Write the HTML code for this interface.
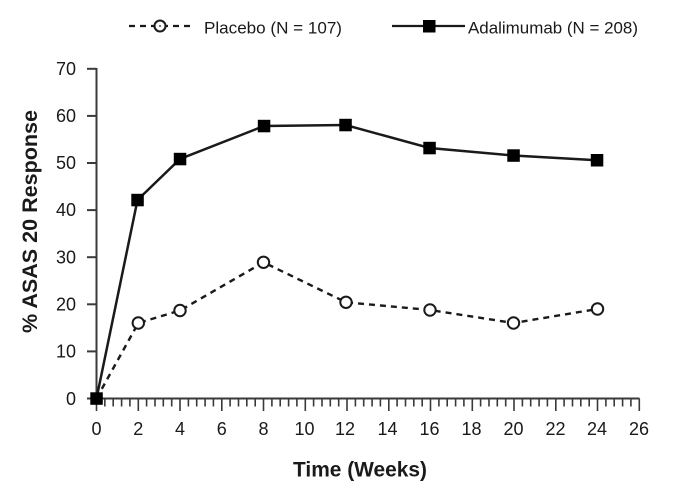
<!DOCTYPE html>
<html>
<head>
<meta charset="utf-8">
<style>
html,body{margin:0;padding:0;background:#fff;}
svg{display:block;}
text{font-family:"Liberation Sans",Arial,sans-serif;fill:#1a1a1a;}
</style>
</head>
<body>
<svg width="688" height="489" viewBox="0 0 688 489" xmlns="http://www.w3.org/2000/svg">
<rect width="688" height="489" fill="#fff"/>

<!-- Legend -->
<line x1="129" y1="26" x2="191" y2="26" stroke="#1a1a1a" stroke-width="2.3" stroke-dasharray="6,5"/>
<circle cx="160" cy="26" r="5.5" fill="#fff" stroke="#1a1a1a" stroke-width="2"/>
<circle cx="160" cy="26" r="0.9" fill="#1a1a1a"/>
<text x="204" y="33.5" font-size="17" textLength="138" lengthAdjust="spacingAndGlyphs">Placebo (N = 107)</text>
<line x1="392" y1="26" x2="465" y2="26" stroke="#1a1a1a" stroke-width="2.3"/>
<rect x="423" y="20" width="12.5" height="12.5" fill="#000"/>
<text x="468" y="33.5" font-size="17" textLength="170" lengthAdjust="spacingAndGlyphs">Adalimumab (N = 208)</text>

<!-- Axes -->
<g stroke="#3a3a3a" stroke-width="2" fill="none">
<line x1="96.5" y1="68" x2="96.5" y2="399"/>
<line x1="95.5" y1="398.5" x2="639.5" y2="398.5"/>
<!-- y ticks -->
<line x1="87" y1="68.8" x2="96.5" y2="68.8"/>
<line x1="87" y1="115.9" x2="96.5" y2="115.9"/>
<line x1="87" y1="163" x2="96.5" y2="163"/>
<line x1="87" y1="210.1" x2="96.5" y2="210.1"/>
<line x1="87" y1="257.2" x2="96.5" y2="257.2"/>
<line x1="87" y1="304.3" x2="96.5" y2="304.3"/>
<line x1="87" y1="351.4" x2="96.5" y2="351.4"/>
<line x1="87" y1="398.5" x2="96.5" y2="398.5"/>
</g>
<g stroke="#3a3a3a" stroke-width="1.6" id="xt">
<!-- minor ticks every 0.4 weeks; major every 2 weeks -->
<path d="M96.5 398.5v12.5
M104.85 398.5v8 M113.2 398.5v8 M121.6 398.5v8 M129.9 398.5v8 M138.3 398.5v12.5
M146.6 398.5v8 M155 398.5v8 M163.3 398.5v8 M171.7 398.5v8 M180 398.5v12.5
M188.4 398.5v8 M196.7 398.5v8 M205.1 398.5v8 M213.4 398.5v8 M221.8 398.5v12.5
M230.1 398.5v8 M238.5 398.5v8 M246.8 398.5v8 M255.2 398.5v8 M263.5 398.5v12.5
M271.9 398.5v8 M280.2 398.5v8 M288.6 398.5v8 M296.9 398.5v8 M305.3 398.5v12.5
M313.6 398.5v8 M322 398.5v8 M330.3 398.5v8 M338.7 398.5v8 M347 398.5v12.5
M355.4 398.5v8 M363.7 398.5v8 M372.1 398.5v8 M380.4 398.5v8 M388.8 398.5v12.5
M397.1 398.5v8 M405.5 398.5v8 M413.8 398.5v8 M422.2 398.5v8 M430.5 398.5v12.5
M438.9 398.5v8 M447.2 398.5v8 M455.6 398.5v8 M463.9 398.5v8 M472.3 398.5v12.5
M480.6 398.5v8 M489 398.5v8 M497.3 398.5v8 M505.7 398.5v8 M514 398.5v12.5
M522.4 398.5v8 M530.7 398.5v8 M539.1 398.5v8 M547.4 398.5v8 M555.8 398.5v12.5
M564.1 398.5v8 M572.5 398.5v8 M580.8 398.5v8 M589.2 398.5v8 M597.5 398.5v12.5
M605.9 398.5v8 M614.2 398.5v8 M622.6 398.5v8 M630.9 398.5v8 M639.3 398.5v12.5" fill="none"/>
</g>

<!-- Y tick labels -->
<g font-size="18" text-anchor="end">
<text x="76" y="75">70</text>
<text x="76" y="122">60</text>
<text x="76" y="169">50</text>
<text x="76" y="216">40</text>
<text x="76" y="263.5">30</text>
<text x="76" y="310.5">20</text>
<text x="76" y="357.5">10</text>
<text x="76" y="405">0</text>
</g>

<!-- X tick labels -->
<g font-size="18" text-anchor="middle">
<text x="96.5" y="435">0</text>
<text x="138.3" y="435">2</text>
<text x="180" y="435">4</text>
<text x="221.8" y="435">6</text>
<text x="263.5" y="435">8</text>
<text x="304.5" y="435">10</text>
<text x="345" y="435">12</text>
<text x="387.5" y="435">14</text>
<text x="429.5" y="435">16</text>
<text x="471.5" y="435">18</text>
<text x="513.5" y="435">20</text>
<text x="555.5" y="435">22</text>
<text x="597" y="435">24</text>
<text x="639" y="435">26</text>
</g>

<!-- Axis titles -->
<text x="360" y="476.5" font-size="21" font-weight="bold" text-anchor="middle" textLength="134" lengthAdjust="spacingAndGlyphs">Time (Weeks)</text>
<text transform="translate(37,221.5) rotate(-90)" font-size="21" font-weight="bold" text-anchor="middle" textLength="223" lengthAdjust="spacingAndGlyphs">% ASAS 20 Response</text>

<!-- Placebo dashed -->
<polyline points="96.5,398.5 138.3,323 180,310.5 263.5,262.3 346,302.3 430,310 513.5,323 597.5,309" fill="none" stroke="#1a1a1a" stroke-width="2.4" stroke-dasharray="6,5"/>
<g fill="#fff" stroke="#1a1a1a" stroke-width="2">
<circle cx="138.3" cy="323" r="5.7"/>
<circle cx="180" cy="310.5" r="5.7"/>
<circle cx="263.5" cy="262.3" r="5.7"/>
<circle cx="346" cy="302.3" r="5.7"/>
<circle cx="430" cy="310" r="5.7"/>
<circle cx="513.5" cy="323" r="5.7"/>
<circle cx="597.5" cy="309" r="5.7"/>
</g>

<!-- Adalimumab solid -->
<polyline points="96.5,398.5 137.5,200 180,159 264,126 345.5,125 429.5,148 513.5,155.5 597,160.3" fill="none" stroke="#1a1a1a" stroke-width="2.5"/>
<g fill="#000">
<rect x="90.3" y="392.3" width="12.5" height="12.5"/>
<rect x="131.3" y="193.8" width="12.5" height="12.5"/>
<rect x="173.8" y="152.8" width="12.5" height="12.5"/>
<rect x="257.8" y="119.8" width="12.5" height="12.5"/>
<rect x="339.3" y="118.8" width="12.5" height="12.5"/>
<rect x="423.3" y="141.8" width="12.5" height="12.5"/>
<rect x="507.3" y="149.3" width="12.5" height="12.5"/>
<rect x="590.8" y="154" width="12.5" height="12.5"/>
</g>
</svg>
</body>
</html>
